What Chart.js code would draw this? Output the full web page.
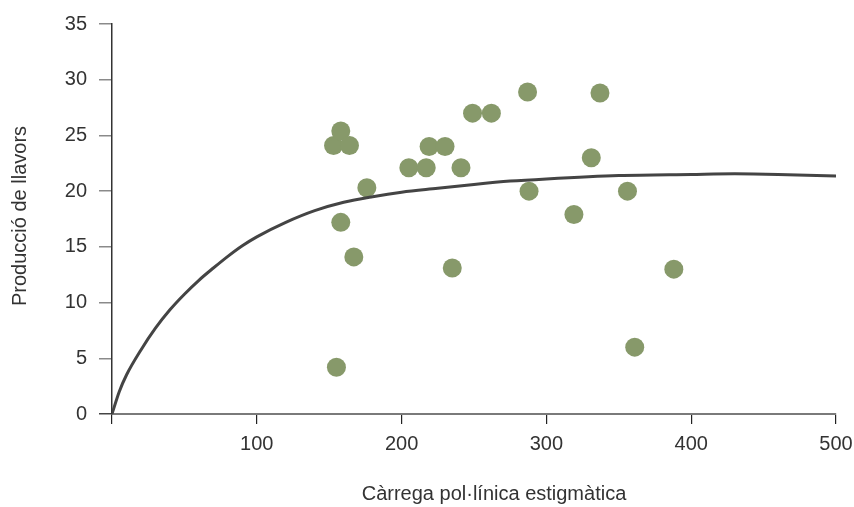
<!DOCTYPE html>
<html>
<head>
<meta charset="utf-8">
<script src="https://cdn.jsdelivr.net/npm/chart.js@4.4.1/dist/chart.umd.min.js"></script>
<style>
    html, body { margin: 0; padding: 0; background: #fff; }
    #wrap { width: 854px; height: 507px; }
</style>
</head>
<body>
<div id="wrap"><canvas id="seedChart" width="854" height="507"></canvas></div>
<script>
// measured points
const pollenLoad = [153, 158, 164, 176, 158, 167, 155, 205, 217, 219, 230, 241, 235, 249, 262, 287, 288, 319, 331, 337, 356, 361, 388];
const seedOutput = [24.1, 25.4, 24.1, 20.3, 17.2, 14.1, 4.2, 22.1, 22.1, 24.0, 24.0, 22.1, 13.1, 27.0, 27.0, 28.9, 20.0, 17.9, 23.0, 28.8, 20.0, 6.0, 13.0];

// fitted curve
const curveX = [0, 5, 10, 20, 30, 40, 50, 60, 70, 80, 90, 100, 120, 140, 160, 180, 200, 225, 250, 275, 300, 350, 400, 430, 460, 500];
const curveY = [0, 2.0, 3.5, 5.75, 7.7, 9.35, 10.75, 12.0, 13.1, 14.15, 15.1, 15.9, 17.2, 18.25, 19.0, 19.5, 19.9, 20.25, 20.6, 20.9, 21.1, 21.4, 21.5, 21.55, 21.5, 21.35];

const xTicks = [0, 100, 200, 300, 400, 500];
const yTicks = [0, 5, 10, 15, 20, 25, 30, 35];

const xTitle = 'Càrrega pol·línica estigmàtica';
const yTitle = 'Producció de llavors';

const fontFamily = '"Liberation Sans", Arial, sans-serif';
const textColor = '#333';

// axis titles are drawn by hand so they sit where the original puts them
const axisTitles = {
    id: 'axisTitles',
    afterDraw(chart) {
        const ctx = chart.ctx;
        ctx.save();
        ctx.fillStyle = textColor;
        ctx.font = '20px ' + fontFamily;
        ctx.textAlign = 'center';
        ctx.textBaseline = 'middle';
        ctx.fillText(xTitle, 494, 494);
        ctx.translate(20, 216);
        ctx.rotate(-Math.PI / 2);
        ctx.fillText(yTitle, 0, 0);
        ctx.restore();
    }
};

const ctx = document.getElementById('seedChart').getContext('2d');
new Chart(ctx, {
    type: 'scatter',
    data: {
        datasets: [{
            label: 'curve',
            data: curveX.map((x, i) => ({ x: x, y: curveY[i] })),
            showLine: true,
            borderColor: '#444444',
            borderWidth: 3,
            pointRadius: 0,
            cubicInterpolationMode: 'monotone',
            fill: false,
            order: 0
        }, {
            label: 'points',
            data: pollenLoad.map((x, i) => ({ x: x, y: seedOutput[i] })),
            backgroundColor: '#87996a',
            borderWidth: 0,
            pointRadius: 9.5,
            pointHoverRadius: 9.5,
            order: 1
        }]
    },
    options: {
        responsive: false,
        animation: false,
        layout: { padding: { top: 24, right: 18, left: 0, bottom: 0 } },
        plugins: {
            legend: { display: false },
            tooltip: { enabled: false }
        },
        scales: {
            x: {
                type: 'linear',
                min: 0,
                max: 500,
                afterFit: function(scale) {
                    scale.height = 93;
                    scale.paddingLeft = 0;
                    scale.paddingRight = 0;
                },
                afterBuildTicks: function(scale) { scale.ticks = xTicks.map(v => ({ value: v })); },
                border: { color: '#7a7a7a', width: 2 },
                grid: { drawOnChartArea: false, drawTicks: true, tickLength: 10, color: '#222', lineWidth: 1.2 },
                ticks: {
                    padding: 8,
                    color: textColor,
                    font: { family: fontFamily, size: 20 },
                    maxRotation: 0,
                    callback: v => v === 0 ? '' : v
                }
            },
            y: {
                type: 'linear',
                min: 0,
                max: 35,
                afterFit: function(scale) {
                    scale.width = 112;
                    scale.paddingTop = 0;
                    scale.paddingBottom = 0;
                },
                afterBuildTicks: function(scale) { scale.ticks = yTicks.map(v => ({ value: v })); },
                border: { color: '#333', width: 1.5 },
                grid: {
                    drawOnChartArea: false,
                    drawTicks: true,
                    tickLength: 13,
                    lineWidth: 1.5,
                    color: c => c.tick && c.tick.value === 0 ? '#444' : '#8a8a8a'
                },
                ticks: {
                    padding: 12,
                    color: textColor,
                    font: { family: fontFamily, size: 20 }
                }
            }
        }
    },
    plugins: [axisTitles]
});
</script>
</body>
</html>
